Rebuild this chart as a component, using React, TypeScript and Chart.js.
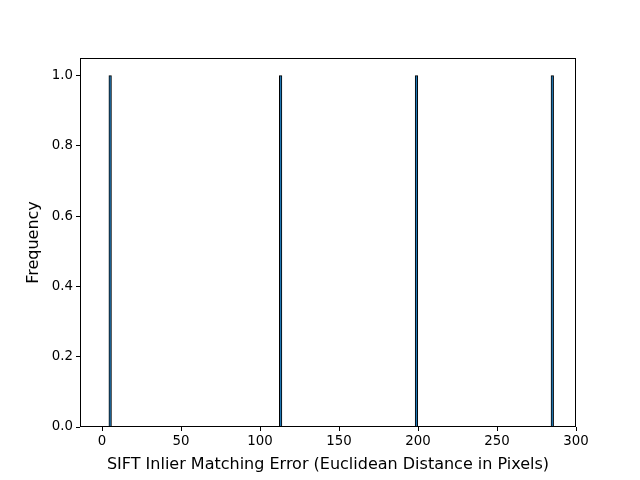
import React, { useEffect, useRef } from "react";
import { Chart, registerables } from "chart.js";

Chart.register(...registerables);

// Histogram bins (centre of bin, in pixels of Euclidean distance) and counts
const binCenters = [5.1, 113.0, 199.0, 285.0];
const binCounts = [1, 1, 1, 1];
const xTicks = [0, 50, 100, 150, 200, 250, 300];
const yTicks = [0, 0.2, 0.4, 0.6, 0.8, 1.0];
const xLabel = "SIFT Inlier Matching Error (Euclidean Distance in Pixels)";
const yLabel = "Frequency";

const FONT = "'DejaVu Sans', sans-serif";

const framePlugin = {
  id: "frame",
  afterDraw(chart: any) {
    const { ctx, chartArea } = chart;
    ctx.save();
    ctx.strokeStyle = "#000";
    ctx.lineWidth = 1;
    ctx.strokeRect(
      Math.round(chartArea.left) + 0.5,
      Math.round(chartArea.top) + 0.5,
      Math.round(chartArea.right - chartArea.left) - 1,
      Math.round(chartArea.bottom - chartArea.top) - 1
    );
    ctx.restore();
  },
};

export default function App() {
  const ref = useRef<HTMLCanvasElement>(null);

  useEffect(() => {
    if (!ref.current) return;
    const chart = new Chart(ref.current, {
      type: "bar",
      data: {
        datasets: [
          {
            data: binCenters.map((x, i) => ({ x, y: binCounts[i] })),
            backgroundColor: "#1f77b4",
            borderColor: "#000000",
            borderWidth: 1,
            barThickness: 2.6,
          } as any,
        ],
      },
      options: {
        animation: false,
        responsive: false,
        maintainAspectRatio: false,
        layout: { padding: { top: 58, right: 64, left: 0, bottom: 0 } },
        plugins: {
          legend: { display: false },
          tooltip: { enabled: false },
        },
        scales: {
          x: {
            type: "linear",
            offset: false,
            min: -14,
            max: 300,
            afterBuildTicks: (s: any) => {
              s.ticks = xTicks.map((v) => ({ value: v }));
            },
            afterFit: (s: any) => {
              s.height = 53;
            },
            grid: {
              display: true,
              offset: false,
              drawOnChartArea: false,
              drawTicks: true,
              tickLength: 4,
              color: "#000",
            },
            border: { display: false },
            ticks: {
              color: "#000",
              font: { family: FONT, size: 13.33 },
              padding: 3,
              maxRotation: 0,
              autoSkip: false,
            },
            title: {
              display: true,
              text: xLabel,
              color: "#000",
              font: { family: FONT, size: 16 },
              padding: { top: 0, bottom: 6 },
            },
          },
          y: {
            type: "linear",
            min: 0,
            max: 1.05,
            afterBuildTicks: (s: any) => {
              s.ticks = yTicks.map((v) => ({ value: v }));
            },
            afterFit: (s: any) => {
              s.width = 80;
            },
            grid: {
              display: true,
              offset: false,
              drawOnChartArea: false,
              drawTicks: true,
              tickLength: 4,
              color: "#000",
            },
            border: { display: false },
            ticks: {
              color: "#000",
              font: { family: FONT, size: 13.33 },
              padding: 3,
              autoSkip: false,
              callback: (v: any) => Number(v).toFixed(1),
            },
            title: {
              display: true,
              text: yLabel,
              color: "#000",
              font: { family: FONT, size: 16 },
              padding: { top: 24, bottom: 0 },
            },
          },
        },
      },
      plugins: [framePlugin],
    });
    return () => chart.destroy();
  }, []);

  return (
    <div style={{ position: "fixed", left: 0, top: 0, width: 640, height: 480, background: "#fff" }}>
      <canvas ref={ref} width={640} height={480} style={{ width: 640, height: 480 }} />
    </div>
  );
}
